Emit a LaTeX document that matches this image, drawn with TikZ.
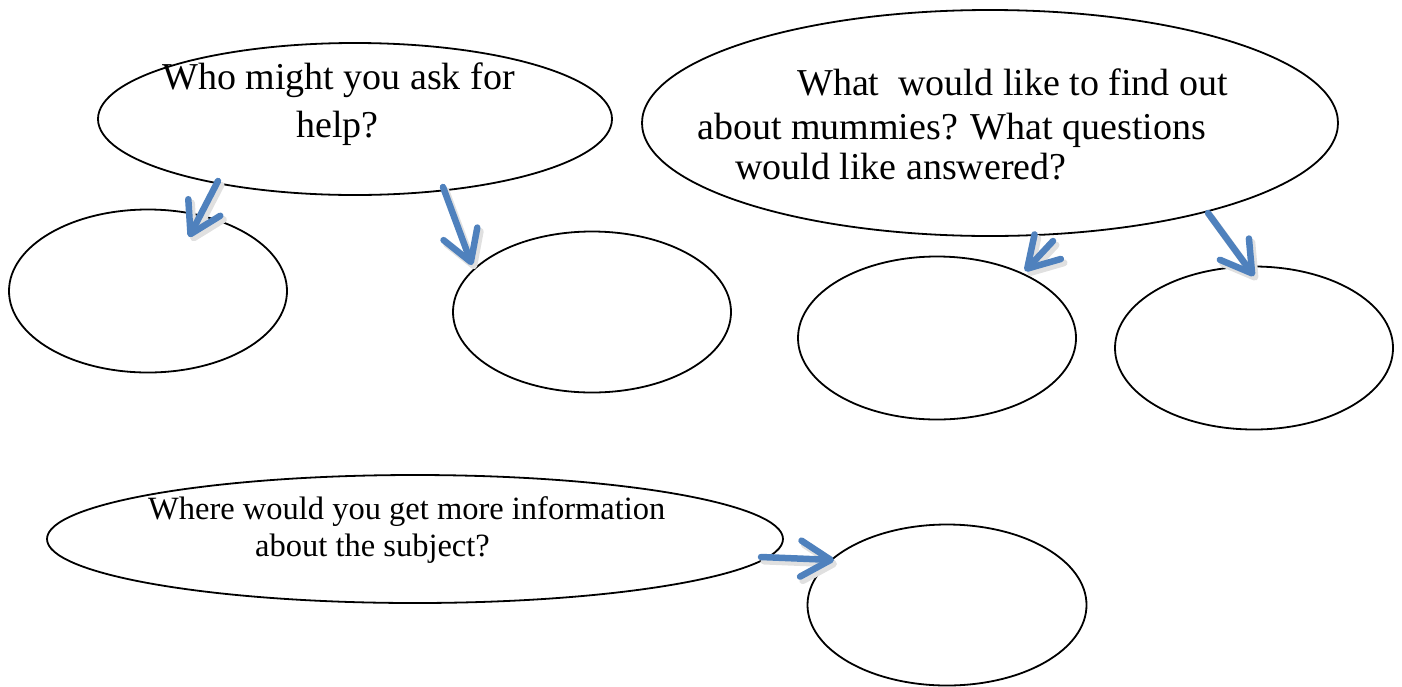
\documentclass[tikz,border=0pt]{standalone}
\usepackage{fontspec}
\setmainfont{Liberation Serif}
\usetikzlibrary{shapes.geometric,arrows.meta}
\definecolor{arrowblue}{RGB}{79,129,189}
\tikzset{
  bubble/.style={ellipse, draw=black, line width=1.8pt, inner sep=0pt},
  bigtxt/.style={anchor=base west, inner sep=0pt, font=\fontsize{38}{46}\selectfont},
  smalltxt/.style={anchor=base west, inner sep=0pt, font=\fontsize{32.5}{40}\selectfont},
  bluearrow/.style={draw=arrowblue, line width=6.5pt, line cap=round,
    -{Straight Barb[length=30pt,width=36pt,line cap=round,line join=round]}},
  arrowshadow/.style={draw=black!12, line width=7pt, line cap=round,
    -{Straight Barb[length=30pt,width=36pt,line cap=round,line join=round]}}
}
\begin{document}
\begin{tikzpicture}[x=1pt,y=-1pt]
\useasboundingbox (0,0) rectangle (1402,686);
% ellipses
\node[bubble, minimum width=514pt, minimum height=152pt] (q1) at (355,119) {};
\node[bubble, minimum width=696pt, minimum height=226pt] (q2) at (990,123) {};
\node[bubble, minimum width=278pt, minimum height=163pt] (a1) at (148,291) {};
\node[bubble, minimum width=278pt, minimum height=161pt] (a2) at (592,312) {};
\node[bubble, minimum width=278pt, minimum height=163pt] (b1) at (937,338) {};
\node[bubble, minimum width=278pt, minimum height=163pt] (b2) at (1254,348) {};
\node[bubble, minimum width=736pt, minimum height=128pt] (q3) at (415,539) {};
\node[bubble, minimum width=279pt, minimum height=161pt] (c1) at (947,605) {};
% texts
\node[bigtxt] (t1a) at (162,89) {Who might you ask for};
\node[bigtxt] (t1b) at (296,137) {help?};
\node[bigtxt] (t2a) at (797,95) {What\ \ would like to find out};
\node[bigtxt] (t2b) at (697,139) {about mummies? What questions};
\node[bigtxt] (t2c) at (735,179) {would like answered?};
\node[smalltxt] (t3a) at (148,519) {Where would you get more information};
\node[smalltxt] (t3b) at (255,556) {about the subject?};
% arrow end points
\coordinate (s1) at (218,181);
\coordinate (e1) at (189,237);
\coordinate (s2) at (443,187);
\coordinate (e2) at (472,265);
\coordinate (s3) at (1053,241);
\coordinate (e3) at (1025,271);
\coordinate (s4) at (1208,213);
\coordinate (e4) at (1254,276);
\coordinate (s5) at (761,557);
\coordinate (e5) at (834,560);
% shadows
\foreach \a/\b in {s1/e1,s2/e2,s3/e3,s4/e4,s5/e5}
  \draw[arrowshadow] ([shift={(3,4)}]\a) -- ([shift={(3,4)}]\b);
% arrows
\draw[bluearrow] (s1) -- (e1);
\draw[bluearrow] (s2) -- (e2);
\draw[bluearrow] (s3) -- (e3);
\draw[bluearrow] (s4) -- (e4);
\draw[bluearrow] (s5) -- (e5);
\end{tikzpicture}
\end{document}
